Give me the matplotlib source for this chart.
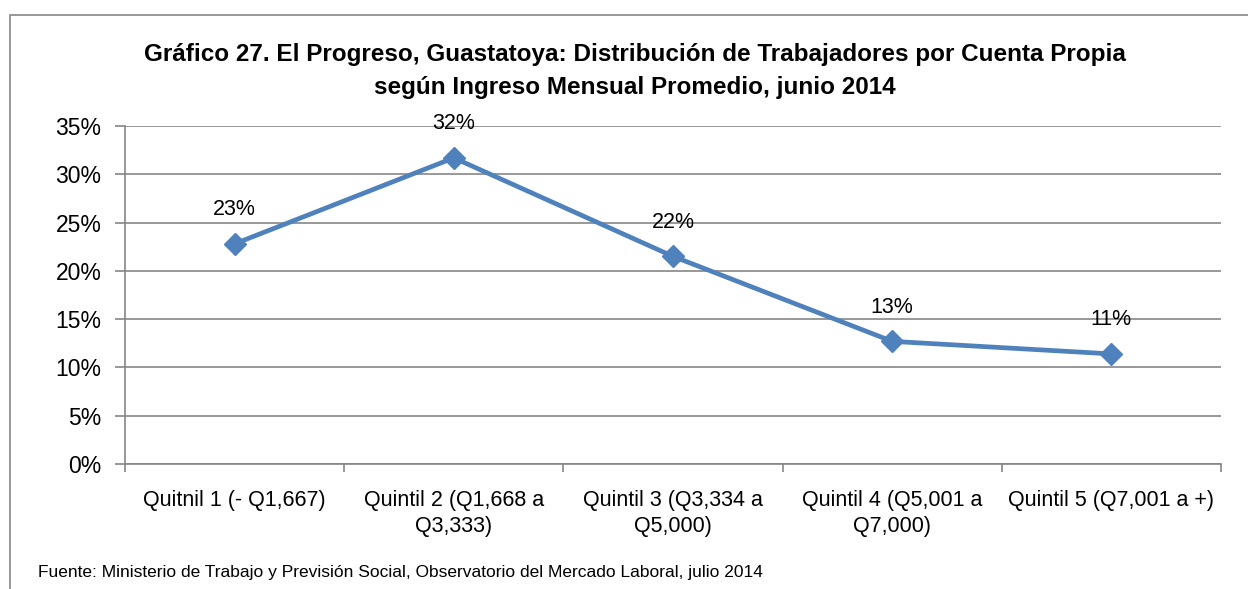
import matplotlib
matplotlib.use("Agg")
import matplotlib.pyplot as plt
from matplotlib.patches import Rectangle
from matplotlib.ticker import FixedLocator, PercentFormatter

plt.rcParams['font.family'] = ['Liberation Sans Narrow', 'Liberation Sans', 'DejaVu Sans']

# data
categorias = ["Quitnil 1 (- Q1,667)",
              "Quintil 2 (Q1,668 a\nQ3,333)",
              "Quintil 3 (Q3,334 a\nQ5,000)",
              "Quintil 4 (Q5,001 a\nQ7,000)",
              "Quintil 5 (Q7,001 a +)"]
porcentajes = [22.8, 31.7, 21.5, 12.7, 11.4]
etiquetas = ["23%", "32%", "22%", "13%", "11%"]

titulo = ("Gráfico 27. El Progreso, Guastatoya: Distribución de Trabajadores por Cuenta Propia\n"
          "según Ingreso Mensual Promedio, junio 2014")
fuente = "Fuente: Ministerio de Trabajo y Previsión Social, Observatorio del Mercado Laboral, julio 2014"

W, H = 1248, 589
fig = plt.figure(figsize=(W / 100, H / 100), dpi=100)

# chart area border (cut off on right and bottom in the reference)
fig.patches.append(Rectangle((10 / W, -0.05), 1.2, 1 - 15 / H + 0.05,
                             transform=fig.transFigure, fill=False,
                             edgecolor='#868686', linewidth=1.2))

ax = fig.add_axes([125 / W, 1 - 464 / H, (1221 - 125) / W, (464 - 126) / H])

gris = '#868686'
x = list(range(len(categorias)))
ax.plot(x, porcentajes, color='#4F81BD', linewidth=3.4, marker='D',
        markersize=11, zorder=3)
for xi, yi, lab in zip(x, porcentajes, etiquetas):
    ax.annotate(lab, (xi, yi), xytext=(0, 17), textcoords='offset points',
                ha='center', va='bottom', fontsize=15.5)

ax.set_xlim(-0.5, len(categorias) - 0.5)
ax.set_ylim(0, 35)
ax.yaxis.set_major_locator(FixedLocator([0, 5, 10, 15, 20, 25, 30, 35]))
ax.yaxis.set_major_formatter(PercentFormatter(decimals=0))
ax.grid(True, axis='y', color=gris, linewidth=1.2)
ax.set_axisbelow(True)

ax.set_xticks(x)
ax.set_xticklabels(categorias, fontsize=15.5, linespacing=1.3)
ax.xaxis.set_minor_locator(FixedLocator([i - 0.5 for i in range(len(categorias) + 1)]))
ax.tick_params(axis='x', which='major', length=0, pad=19)
ax.tick_params(axis='x', which='minor', length=6, width=1.2, color=gris, direction='out')
ax.tick_params(axis='y', length=7, width=1.2, color=gris, labelsize=16.5, pad=10)

for s in ['top', 'right']:
    ax.spines[s].set_visible(False)
for s in ['left', 'bottom']:
    ax.spines[s].set_color(gris)
    ax.spines[s].set_linewidth(1.2)

fig.text(635 / W, 1 - 71 / H, titulo, ha='center', va='center',
         fontsize=17.5, fontweight='bold', linespacing=1.6)
fig.text(38 / W, 1 - 572 / H, fuente, ha='left', va='center', fontsize=12.5)

fig.savefig("out.png", dpi=100)
